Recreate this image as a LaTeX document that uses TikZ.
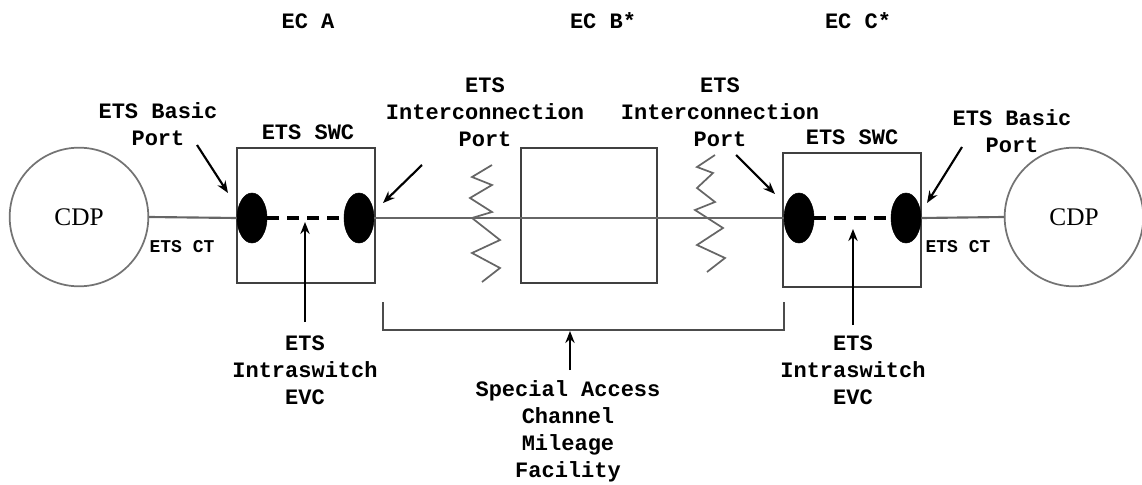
\documentclass[tikz,border=0pt]{standalone}
\usepackage{fontspec}
\setmainfont{Liberation Mono}
\usetikzlibrary{arrows.meta,shapes.geometric}
\begin{document}
\begin{tikzpicture}[x=0.75pt,y=-0.75pt,
  lbl/.style={font=\bfseries\fontsize{16.5}{20.25}\selectfont, align=center, inner sep=0pt},
  small/.style={font=\bfseries\fontsize{13.5}{16}\selectfont, inner sep=0pt},
  cdp/.style={circle, draw=black!55, line width=1.3pt, minimum size=104pt, inner sep=0pt,
     font=\fontspec{Liberation Serif}\fontsize{19}{20}\selectfont},
  box/.style={rectangle, draw=black!75, line width=1.2pt, inner sep=0pt},
  port/.style={ellipse, fill=black, draw=black, minimum width=22.5pt, minimum height=37.5pt, inner sep=0pt},
  wire/.style={draw=black!60, line width=1.6pt},
  evc/.style={draw=black, line width=3pt, dash pattern=on 9pt off 6pt},
  pointer/.style={draw=black, line width=1.6pt, -{Stealth[length=9pt,width=7pt]}},
  zig/.style={draw=black!60, line width=1.3pt}
]
\useasboundingbox (0,0) rectangle (1142,485);

% top labels
\node[lbl] (eca) at (308,21) {EC A};
\node[lbl] (ecb) at (603,21) {EC B*};
\node[lbl] (ecc) at (858,21) {EC C*};

% circles
\node[cdp] (cdpL) at (79,217) {CDP};
\node[cdp] (cdpR) at (1074,217) {CDP};

% boxes
\node[box, minimum width=103.5pt, minimum height=101.25pt] (swcL) at (306,215.5) {};
\node[box, minimum width=102pt, minimum height=101.25pt] (mid) at (589,215.5) {};
\node[box, minimum width=103.5pt, minimum height=100.5pt] (swcR) at (852,220) {};

% ports
\node[port] (p1) at (252,218) {};
\node[port] (p2) at (359,218) {};
\node[port] (p3) at (799,218) {};
\node[port] (p4) at (906,218) {};

% wires
\draw[wire] (cdpL.east) -- (p1.west);
\draw[wire] (p2.east) -- (p3.west);
\draw[wire] (p4.east) -- (cdpR.west);
\draw[evc] (p1.east) -- (p2.west);
\draw[evc] (p3.east) -- (p4.west);

% zigzags
\draw[zig] (492,165) -- (472,177) -- (492,185) -- (470,198) -- (492,212) -- (472,218) -- (500,240) -- (472,253) -- (500,268) -- (482,282);
\draw[zig] (715,155) -- (697,167) -- (713,173) -- (697,188) -- (715,202) -- (695,210) -- (723,228) -- (697,245) -- (725,258) -- (707,272);

% labels
\node[lbl] (swcLl) at (308,132) {ETS SWC};
\node[lbl] (swcRl) at (852,137) {ETS SWC};
\node[lbl] (basL) at (158,124) {ETS Basic\\Port};
\node[lbl] (basR) at (1012,131) {ETS Basic\\Port};
\node[lbl] (icL) at (485,112) {ETS\\Interconnection\\Port};
\node[lbl] (icR) at (720,112) {ETS\\Interconnection\\Port};
\node[small] (ctL) at (182,247) {ETS CT};
\node[small] (ctR) at (958,247) {ETS CT};
\node[lbl] (evcL) at (305,370) {ETS\\Intraswitch\\EVC};
\node[lbl] (evcR) at (853,370) {ETS\\Intraswitch\\EVC};
\node[lbl] (sac) at (568,431) {Special Access\\Channel\\Mileage\\Facility};

% pointer arrows
\coordinate (a1) at (197,145); \coordinate (a1e) at (228,193);
\coordinate (a2) at (422,165); \coordinate (a2e) at (383,203);
\coordinate (a3) at (736,155); \coordinate (a3e) at (775,194);
\coordinate (a4) at (962,147); \coordinate (a4e) at (927,203);
\draw[pointer] (a1) -- (a1e);
\draw[pointer] (a2) -- (a2e);
\draw[pointer] (a3) -- (a3e);
\draw[pointer] (a4) -- (a4e);

\coordinate (e1) at (305,322); \coordinate (e1e) at (305,222);
\coordinate (e2) at (853,325); \coordinate (e2e) at (853,229);
\draw[pointer] (e1) -- (e1e);
\draw[pointer] (e2) -- (e2e);

% bracket
\coordinate (bl) at (383,302); \coordinate (br) at (784,302);
\draw[draw=black!70, line width=1.5pt] (bl) -- (383,330) -- (784,330) -- (br);
\coordinate (s1) at (570,370); \coordinate (s1e) at (570,331);
\draw[pointer] (s1) -- (s1e);
\end{tikzpicture}
\end{document}
